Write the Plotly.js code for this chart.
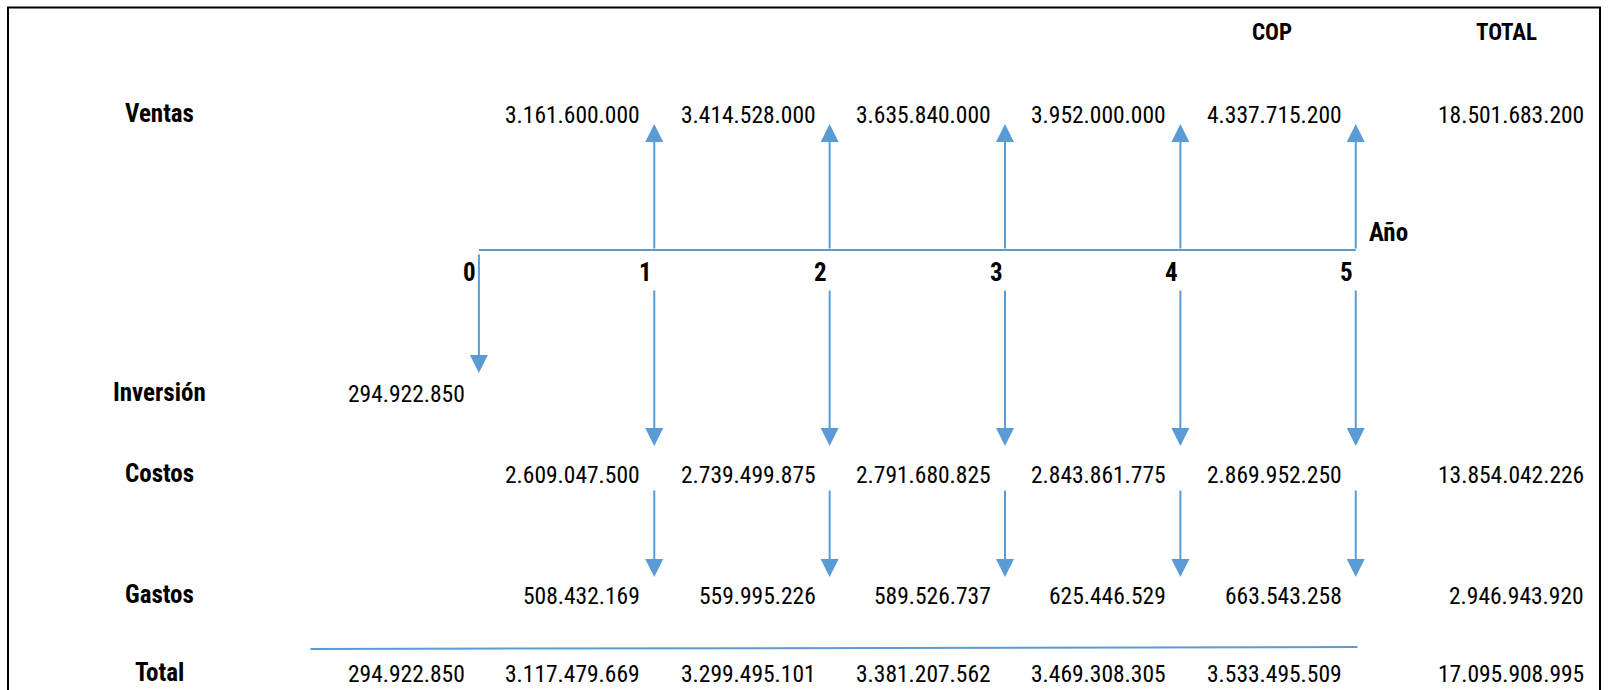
<!DOCTYPE html>
<html>
<head>
<meta charset="utf-8">
<script src="https://cdn.plot.ly/plotly-3.0.1.min.js"></script>
<style>html,body{margin:0;padding:0;background:#fff;}#chart{width:1617px;height:690px;}</style>
</head>
<body>
<div id="chart"></div>
<script>
// ---- DATA ----
const years = [0, 1, 2, 3, 4, 5];
const flowYears = [1, 2, 3, 4, 5];
const ventas = [3161600000, 3414528000, 3635840000, 3952000000, 4337715200];
const inversion = [294922850];          // year 0
const costos = [2609047500, 2739499875, 2791680825, 2843861775, 2869952250];
const gastos = [508432169, 559995226, 589526737, 625446529, 663543258];
const totalAnual = [294922850, 3117479669, 3299495101, 3381207562, 3469308305, 3533495509];
const rowLabels = ["Ventas", "Inversión", "Costos", "Gastos", "Total"];
const rowTotals = { Ventas: 18501683200, Costos: 13854042226, Gastos: 2946943920, Total: 17095908995 };
const headerLabels = ["COP", "TOTAL"];
const axisLabel = "Año";

// ---- LAYOUT CONSTANTS ----
const W = 1617, H = 690;
const pxPerYear = 175.37, year0Px = 478.9;
const BLUE = "#5B9BD5";
const NARROW = "'Liberation Sans Narrow', 'Arial Narrow', 'Roboto Condensed', 'Liberation Sans', sans-serif";
const NUM_SIZE = 23.5;
const rowY = { header: 32, Ventas: 113, timeline: 250, years: 272, anio: 232, Inversión: 392, Costos: 473, Gastos: 594, Total: 672 };
const arrowsY = {
  ventas: [250, 124],
  inversion: [253, 373],
  costos: [289, 446],
  gastos: [489, 577]
};
const labelColPx = 159, totalColRightPx = 1586, copPx = 1272, totalHdrPx = 1506;

function fmt(n) {
  return String(n).replace(/\B(?=(\d{3})+(?!\d))/g, ".");
}

const annotations = [];
const shapes = [];

function valText(x, y, v) {
  annotations.push({ x: x, y: y, xref: "x", yref: "y", text: fmt(v), showarrow: false,
    xanchor: "right", yanchor: "middle", xshift: -12, yshift: -2,
    font: { family: NARROW, size: NUM_SIZE, color: "#000" } });
}
function arrow(x, y0, y1) {
  annotations.push({ x: x, y: y1, ax: x, ay: y0, xref: "x", yref: "y", axref: "x", ayref: "y",
    text: "", showarrow: true, arrowhead: 2, arrowsize: 1.8, arrowwidth: 2, arrowcolor: BLUE, standoff: 0 });
}
function boldText(xpx, y, txt, size, anchor) {
  annotations.push({ x: xpx / W, y: y, xref: "paper", yref: "y", text: "<b>" + txt + "</b>", showarrow: false,
    xanchor: anchor || "center", yanchor: "middle",
    font: { family: NARROW, size: size, color: "#000" } });
}

// headers
boldText(copPx, rowY.header, headerLabels[0], 23);
boldText(totalHdrPx, rowY.header, headerLabels[1], 23);
// row labels
rowLabels.forEach(l => boldText(labelColPx, rowY[l], l, 25));

// Ventas
flowYears.forEach((yr, i) => { valText(yr, rowY.Ventas, ventas[i]); arrow(yr, arrowsY.ventas[0], arrowsY.ventas[1]); });
// Inversion
valText(0, rowY["Inversión"], inversion[0]);
arrow(0, arrowsY.inversion[0], arrowsY.inversion[1]);
// Costos
flowYears.forEach((yr, i) => { valText(yr, rowY.Costos, costos[i]); arrow(yr, arrowsY.costos[0], arrowsY.costos[1]); });
// Gastos
flowYears.forEach((yr, i) => { valText(yr, rowY.Gastos, gastos[i]); arrow(yr, arrowsY.gastos[0], arrowsY.gastos[1]); });
// Totals per year
years.forEach((yr, i) => valText(yr, rowY.Total, totalAnual[i]));
// Row totals
["Ventas", "Costos", "Gastos", "Total"].forEach(k => {
  annotations.push({ x: totalColRightPx / W, y: rowY[k], xref: "paper", yref: "y", text: fmt(rowTotals[k]), showarrow: false,
    xanchor: "right", yanchor: "middle", yshift: -2, font: { family: NARROW, size: NUM_SIZE, color: "#000" } });
});
// Year labels
years.forEach(yr => {
  annotations.push({ x: yr, y: rowY.years, xref: "x", yref: "y", text: "<b>" + yr + "</b>", showarrow: false,
    xanchor: "center", yanchor: "middle", xshift: -9, font: { family: NARROW, size: 25, color: "#000" } });
});
// Año
annotations.push({ x: 5, y: rowY.anio, xref: "x", yref: "y", text: "<b>" + axisLabel + "</b>", showarrow: false,
  xanchor: "left", yanchor: "middle", xshift: 11, font: { family: NARROW, size: 25, color: "#000" } });

// Total underline
shapes.push({ type: "line", xref: "x", yref: "y", x0: -0.96, x1: 5.01, y0: 649, y1: 647, line: { color: BLUE, width: 2 } });
// Border
shapes.push({ type: "rect", xref: "paper", yref: "paper", x0: 8 / W, x1: 1600 / W, y0: -0.05, y1: 1 - 7.5 / H,
  line: { color: "#000", width: 2 }, fillcolor: "rgba(0,0,0,0)" });

const traces = [{
  type: "scatter", mode: "lines", x: [years[0], years[years.length - 1]], y: [rowY.timeline, rowY.timeline],
  line: { color: BLUE, width: 2 }, hoverinfo: "skip", showlegend: false
}];

const layout = {
  width: W, height: H,
  margin: { l: 0, r: 0, t: 0, b: 0 },
  paper_bgcolor: "#fff", plot_bgcolor: "#fff",
  showlegend: false,
  xaxis: { range: [-year0Px / pxPerYear, (W - year0Px) / pxPerYear], visible: false, fixedrange: true },
  yaxis: { range: [H, 0], visible: false, fixedrange: true },
  annotations: annotations,
  shapes: shapes
};

Plotly.newPlot("chart", traces, layout, { displayModeBar: false, staticPlot: true });
</script>
</body>
</html>
